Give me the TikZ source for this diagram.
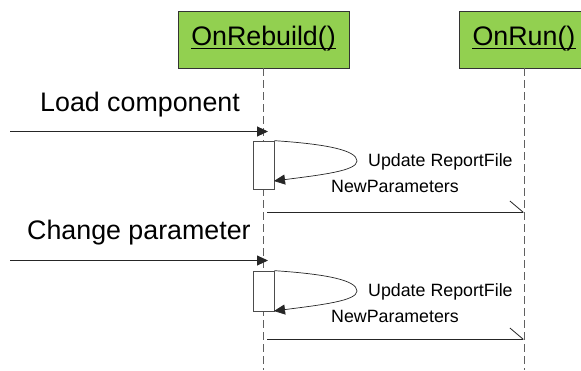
\documentclass[tikz,border=0pt]{standalone}
\usepackage{fontspec}
\setmainfont{Liberation Sans}
\usetikzlibrary{arrows.meta}
\definecolor{objgreen}{RGB}{146,208,80}
\definecolor{lifegray}{RGB}{96,96,96}
\begin{document}
\begin{tikzpicture}[x=1pt,y=-1pt,
  objbox/.style={draw=black!80,line width=0.9pt,fill=objgreen,minimum width=171pt,minimum height=57pt,inner sep=0pt},
  objlabel/.style={anchor=base,inner sep=0pt,font=\fontsize{26.8}{28}\selectfont},
  lifeline/.style={draw=lifegray,line width=0.9pt,dash pattern=on 8pt off 4pt},
  actbox/.style={draw=black!70,line width=0.7pt,fill=white,minimum width=21pt,inner sep=0pt},
  biglabel/.style={anchor=base west,inner sep=0pt,font=\fontsize{26.8}{28}\selectfont},
  smalllabel/.style={anchor=base west,inner sep=0pt,font=\fontsize{17.8}{20}\selectfont},
  call/.style={draw=black!85,line width=0.9pt,-{Triangle[length=11pt,width=10pt]}},
  selfcall/.style={draw=black!85,line width=0.7pt,-{Triangle[length=11pt,width=10pt]}},
  reply/.style={draw=black!85,line width=0.8pt,-{Straight Barb[harpoon,length=13pt,width=22pt,line width=0.8pt]}}]
\useasboundingbox (0,0) rectangle (581,370);

% objects with their lifelines
\node[objbox] (rb) at (263.5,39.5) {};
\node[objbox,minimum width=130pt] (rn) at (524,39.5) {};
\node[objlabel] (rbt) at (263.5,45) {OnRebuild()};
\node[objlabel] (rnt) at (524,45) {OnRun()};
\draw[line width=1pt] ([yshift=-3pt]rbt.base west) -- ([yshift=-3pt]rbt.base east);
\draw[line width=1pt] ([yshift=-3pt]rnt.base west) -- ([yshift=-3pt]rnt.base east);
\coordinate (rbend) at (263.5,370);
\coordinate (rnend) at (524,370);
\draw[lifeline] (rb.south) -- (rbend);
\draw[lifeline] (rn.south) -- (rnend);

% first interaction: load component
\node[biglabel] (lc) at (40,111) {Load component};
\coordinate (in1) at (10,131.5);
\coordinate (hit1) at (268,131.5);
\draw[call] (in1) -- (hit1);
\node[actbox,minimum height=48pt] (a1) at (263.5,165) {};
\coordinate (back1) at (274,181);
\draw[selfcall] (a1.north east) .. controls (325,144) and (357,150) .. (357,161)
  .. controls (357,171) and (320,175) .. (back1);
\node[smalllabel] (u1) at (368,166.7) {Update ReportFile};
\node[smalllabel] (n1) at (331,192.7) {NewParameters};
\coordinate (s1) at (267,212);
\coordinate (t1) at (524,212);
\draw[reply] (s1) -- (t1);

% second interaction: change parameter
\node[biglabel] (cp) at (27,239) {Change parameter};
\coordinate (in2) at (10,260.5);
\coordinate (hit2) at (268,260.5);
\draw[call] (in2) -- (hit2);
\node[actbox,minimum height=40pt] (a2) at (263.5,291) {};
\coordinate (back2) at (274,311);
\draw[selfcall] (a2.north east) .. controls (325,274) and (357,280) .. (357,291)
  .. controls (357,301) and (320,305) .. (back2);
\node[smalllabel] (u2) at (368,296.7) {Update ReportFile};
\node[smalllabel] (n2) at (331,322) {NewParameters};
\coordinate (s2) at (267,339);
\coordinate (t2) at (524,339);
\draw[reply] (s2) -- (t2);
\end{tikzpicture}
\end{document}
